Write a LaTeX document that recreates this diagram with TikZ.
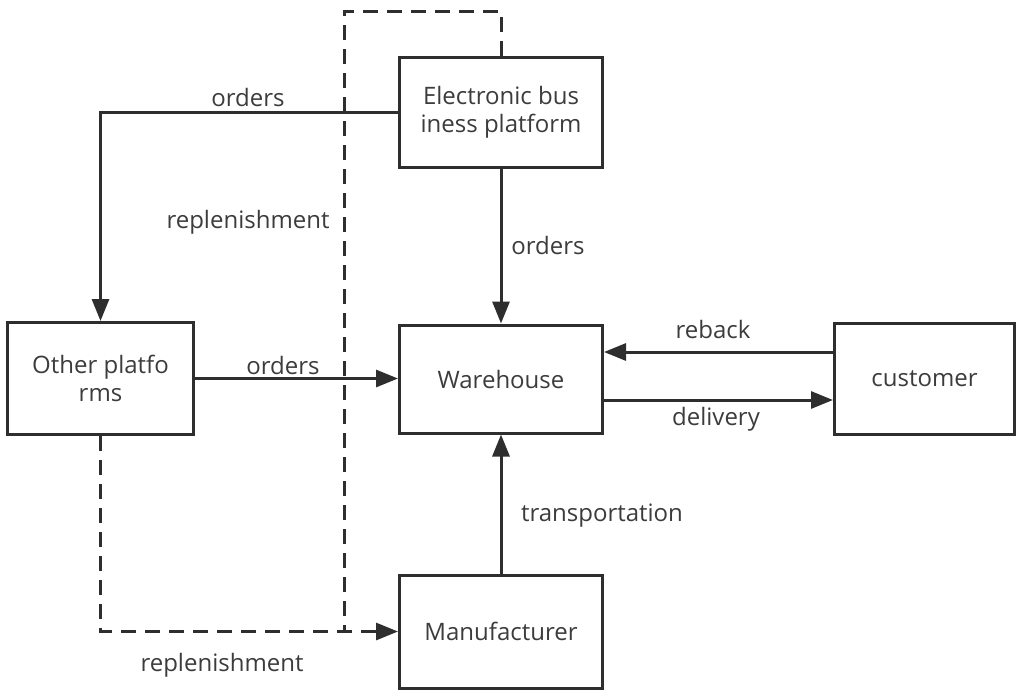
\documentclass[tikz,border=0pt]{standalone}
\usepackage{fontspec}
\setmainfont{Open Sans}
\usetikzlibrary{arrows.meta}
\definecolor{ink}{HTML}{2E2E2E}
\definecolor{txt}{HTML}{3C3C3C}
\tikzset{
  box/.style={draw=ink, line width=3pt, align=center, text=txt,
    minimum width=203pt, minimum height=110pt, inner sep=0pt},
  lbl/.style={text=txt, inner sep=0pt},
  arr/.style={draw=ink, line width=3pt, -{Triangle[length=22pt,width=17pt]}},
  replen/.style={draw=ink, line width=3pt, dash pattern=on 15pt off 9pt}
}
\begin{document}
\begin{tikzpicture}[x=1pt, y=-1pt, font=\fontsize{24}{28}\selectfont]
    \useasboundingbox (0,0) rectangle (1016,691);
    % boxes
    \node[box] (ebp) at (501,112.5) {Electronic bus\\iness platform};
    \node[box, minimum width=186pt, minimum height=112pt] (other) at (100.5,378.5) {Other platfo\\rms};
    \node[box, minimum height=108pt] (wh) at (501,379) {Warehouse};
    \node[box, minimum width=180pt, minimum height=111pt] (cust) at (924.5,378.5) {customer};
    \node[box, minimum height=113pt] (man) at (501,631.5) {Manufacturer};
    % replenishment (dashed)
    \coordinate (dtop) at (344,11);
    \draw[replen] (ebp.north) |- (dtop) -- (dtop |- man.west);
    \draw[replen, -{Triangle[length=22pt,width=17pt]}] (other.south) |- (man.west);
    % orders
    \draw[arr] (ebp.west) -| (other.north);
    \draw[arr] (ebp.south) -- (wh.north);
    \draw[arr] (other.east) -- (wh.west |- other.east);
    % customer side
    \draw[arr] ([yshift=26.5pt]cust.west) -- ([yshift=26.5pt]cust.west -| wh.east);
    \draw[arr] ([yshift=-21.5pt]cust.west -| wh.east) -- ([yshift=-21.5pt]cust.west);
    % transportation
    \draw[arr] (man.north) -- (wh.south);
    % labels
    \node[lbl] (o1) at (248,97) {orders};
    \node[lbl] (o2) at (548,245) {orders};
    \node[lbl] (o3) at (283,365) {orders};
    \node[lbl] (r1) at (248,222) {replenishment};
    \node[lbl] (r2) at (222,665) {replenishment};
    \node[lbl] (rb) at (713,329) {reback};
    \node[lbl] (dl) at (716,419) {delivery};
    \node[lbl] (tr) at (602,516) {transportation};
\end{tikzpicture}
\end{document}
